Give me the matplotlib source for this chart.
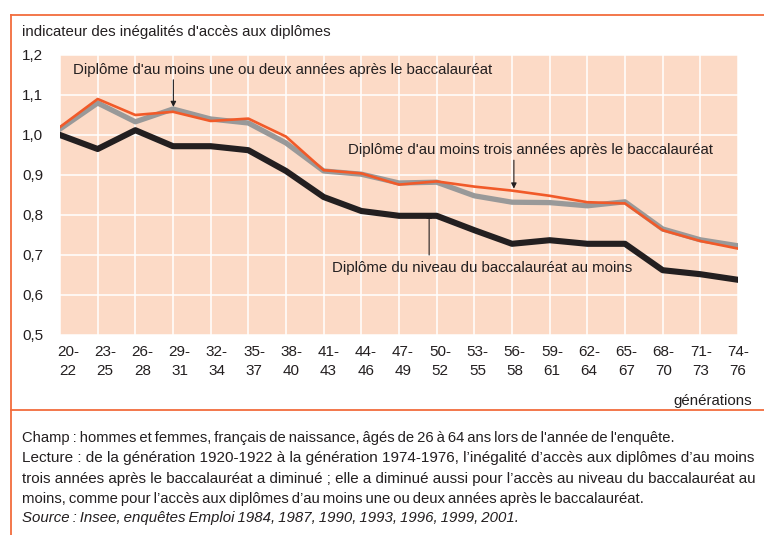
import matplotlib
matplotlib.use("Agg")
import matplotlib.pyplot as plt

generations = ["20-\n22", "23-\n25", "26-\n28", "29-\n31", "32-\n34", "35-\n37", "38-\n40",
               "41-\n43", "44-\n46", "47-\n49", "50-\n52", "53-\n55", "56-\n58", "59-\n61",
               "62-\n64", "65-\n67", "68-\n70", "71-\n73", "74-\n76"]
bac_au_moins = [1.00, 0.965, 1.012, 0.972, 0.972, 0.962, 0.91, 0.845, 0.81, 0.798, 0.798,
                0.762, 0.728, 0.737, 0.728, 0.728, 0.662, 0.652, 0.638]
trois_ans = [1.015, 1.08, 1.033, 1.065, 1.04, 1.03, 0.98, 0.91, 0.902, 0.88, 0.882,
             0.848, 0.832, 0.831, 0.823, 0.833, 0.765, 0.738, 0.723]
un_deux_ans = [1.02, 1.09, 1.05, 1.058, 1.035, 1.041, 0.996, 0.912, 0.904, 0.876, 0.884,
               0.871, 0.861, 0.848, 0.832, 0.829, 0.762, 0.735, 0.716]
yticks = [0.5, 0.6, 0.7, 0.8, 0.9, 1.0, 1.1, 1.2]
ytick_labels = ["0,5", "0,6", "0,7", "0,8", "0,9", "1,0", "1,1", "1,2"]

plt.rcParams['font.family'] = ['Liberation Sans', 'DejaVu Sans']
TXT = '#231F20'

W, H = 764, 535
fig = plt.figure(figsize=(W / 100, H / 100), dpi=100)

def fx(px):
    return px / W

def fy(py):
    return 1 - py / H

# plot area
left, right, top, bottom = 60, 738, 55, 335
ax = fig.add_axes([fx(left), fy(bottom), fx(right - left), (bottom - top) / H])
ax.set_facecolor('#FCDAC6')
x = list(range(len(generations)))
ax.plot(x, bac_au_moins, color=TXT, lw=4.4, zorder=3)
ax.plot(x, trois_ans, color='#999999', lw=3.8, zorder=3)
ax.plot(x, un_deux_ans, color='#F15A29', lw=1.9, zorder=4)
ax.set_xlim(0, len(generations) - 1)
ax.set_ylim(0.5, 1.2)
ax.set_yticks(yticks)
ax.set_yticklabels(ytick_labels)
ax.set_xticks(x)
ax.set_xticklabels([])
ax.tick_params(length=0, labelsize=11, colors=TXT)
ax.tick_params(axis='y', pad=12)
ax.grid(True, color='white', lw=1.1)
ax.set_axisbelow(True)
for s in ax.spines.values():
    s.set_visible(False)

# category labels (slightly shifted scale, as in the original)
axl = ax.twiny()
axl.xaxis.set_ticks_position('bottom')
axl.xaxis.set_label_position('bottom')
axl.set_xlim(-0.215, len(generations) - 1)
axl.set_xticks(x)
axl.set_xticklabels(generations, linespacing=1.45)
axl.tick_params(length=0, labelsize=11, colors=TXT, pad=7)
for s in axl.spines.values():
    s.set_visible(False)

# annotations
arrow = dict(arrowstyle='-|>', color=TXT, lw=0.8, mutation_scale=8, shrinkA=0, shrinkB=0)
ax.text(5.92, 1.162, "Diplôme d'au moins une ou deux années après le baccalauréat",
        ha='center', va='center', fontsize=10.8, color=TXT)
ax.annotate("", xy=(3.01, 1.07), xytext=(3.01, 1.138), arrowprops=arrow)
ax.text(12.48, 0.962, "Diplôme d'au moins trois années après le baccalauréat",
        ha='center', va='center', fontsize=10.8, color=TXT)
ax.annotate("", xy=(12.05, 0.866), xytext=(12.05, 0.937), arrowprops=arrow)
ax.text(11.22, 0.668, "Diplôme du niveau du baccalauréat au moins",
        ha='center', va='center', fontsize=10.8, color=TXT)
ax.annotate("", xy=(9.8, 0.806), xytext=(9.8, 0.70), arrowprops=arrow)

# frame
frame_c = '#F26C3D'
fig.add_artist(plt.Line2D([fx(11), fx(11)], [fy(15), 0], color=frame_c, lw=1.3))
fig.add_artist(plt.Line2D([fx(11), 1], [fy(15), fy(15)], color=frame_c, lw=1.3))
fig.add_artist(plt.Line2D([fx(11), 1], [fy(410), fy(410)], color=frame_c, lw=1.3))

fig.text(fx(22), fy(32), "indicateur des inégalités d'accès aux diplômes",
         ha='left', va='center', fontsize=10.8, color=TXT)
fig.text(fx(752), fy(401), "générations", ha='right', va='center', fontsize=10.8, color=TXT)

TS = "\u2009"
notes = [
    ("Champ : hommes et femmes, français de naissance, âgés de 26 à 64 ans lors de l'année de l'enquête.", True, 10.6),
    ("Lecture : de la génération 1920-1922 à la génération 1974-1976, l’inégalité d’accès aux diplômes d’au moins", False, 10.95),
    ("trois années après le baccalauréat a diminué ; elle a diminué aussi pour l’accès au niveau du baccalauréat au", False, 10.9),
    ("moins, comme pour l’accès aux diplômes d’au moins une ou deux années après le baccalauréat.", True, 10.7),
]
ys = [438, 458, 479, 499]
for (t, tight, fs), yy in zip(notes, ys):
    if tight:
        t = t.replace(" ", TS)
    fig.text(fx(22), fy(yy), t, ha='left', va='center', fontsize=fs, color=TXT)
fig.text(fx(22), fy(518),
         "Source : Insee, enquêtes Emploi 1984, 1987, 1990, 1993, 1996, 1999, 2001.".replace(" ", TS),
         ha='left', va='center', fontsize=10.8, style='italic', color=TXT)

fig.savefig("out.png", dpi=100)
